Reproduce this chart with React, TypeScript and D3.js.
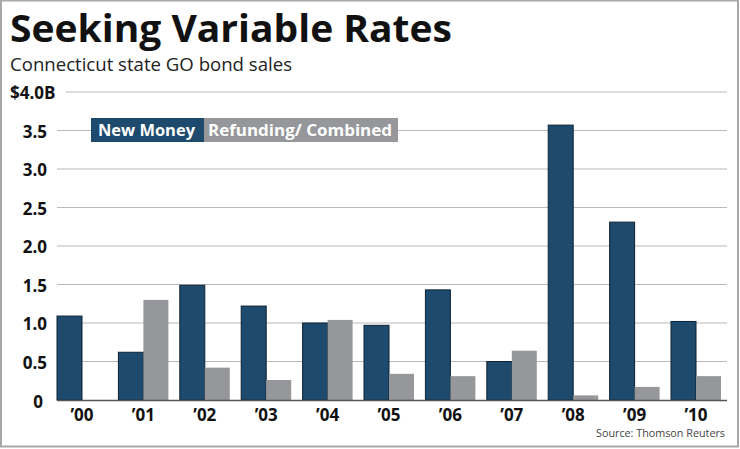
import React from 'react';
import * as d3 from 'd3';

const years = ['’00', '’01', '’02', '’03', '’04', '’05', '’06', '’07', '’08', '’09', '’10'];
const newMoney = [1.09, 0.62, 1.49, 1.22, 1.0, 0.97, 1.43, 0.5, 3.57, 2.31, 1.02];
const refunding = [0, 1.3, 0.42, 0.26, 1.04, 0.34, 0.31, 0.64, 0.06, 0.17, 0.31];
const yTicks = [0, 0.5, 1.0, 1.5, 2.0, 2.5, 3.0, 3.5, 4.0];
const seriesNames = ['New Money', 'Refunding/ Combined'];

const W = 740;
const H = 449;
const NAVY = '#1d4a6d';
const GRAY = '#96979a';
const FONT = "'Open Sans', 'Noto Sans', sans-serif";

const App: React.FC = () => {
  const x0 = d3.scaleBand<string>()
    .domain(years)
    .range([57, 721])
    .paddingInner(0.186)
    .paddingOuter(0);

  const x1 = d3.scaleBand<string>()
    .domain(['new', 'ref'])
    .range([0, x0.bandwidth()]);

  const y = d3.scaleLinear().domain([0, 4]).range([400, 92]);

  const fmt = (v: number) => (v === 0 ? '0' : v.toFixed(1));

  return (
    <svg
      width={W}
      height={H}
      style={{ position: 'absolute', left: 0, top: 0, background: '#fff' }}
      fontFamily={FONT}
    >
      <rect x={1} y={0.5} width={W - 3} height={H - 3} fill="#fff" stroke="#a7a7a7" strokeWidth={2} />

      <text x={10} y={42} fontSize={37} fontWeight={700} fill="#111" textLength={442} lengthAdjust="spacingAndGlyphs">
        Seeking Variable Rates
      </text>
      <text x={10} y={71} fontSize={17.5} fill="#222" textLength={282} lengthAdjust="spacingAndGlyphs">
        Connecticut state GO bond sales
      </text>

      {/* gridlines */}
      {yTicks.filter(t => t > 0).map(t => (
        <line
          key={t}
          x1={t === 4 ? 66 : 57}
          x2={727}
          y1={y(t)}
          y2={y(t)}
          stroke="#b9b9b9"
          strokeWidth={1.2}
        />
      ))}

      {/* y tick labels */}
      {yTicks.map(t => (
        t === 4 ? (
          <text key={t} x={10} y={y(t) + 7} fontSize={17} fontWeight={700} fill="#111">$4.0B</text>
        ) : (
          <text
            key={t}
            x={t === 0 ? 43 : 47}
            y={y(t) + (t === 0 ? 8 : 7)}
            textAnchor="end"
            fontSize={17}
            fontWeight={700}
            fill="#111"
          >
            {fmt(t)}
          </text>
        )
      ))}

      {/* legend */}
      <g transform="translate(91,118)">
        <rect width={113} height={24} fill={NAVY} />
        <rect x={113} width={194} height={24} fill={GRAY} />
        <text x={7} y={18} fontSize={16} fontWeight={700} fill="#fff" textLength={97} lengthAdjust="spacingAndGlyphs">
          {seriesNames[0]}
        </text>
        <text x={117} y={18} fontSize={16} fontWeight={700} fill="#fff" textLength={184} lengthAdjust="spacingAndGlyphs">
          {seriesNames[1]}
        </text>
      </g>

      {/* bars */}
      {years.map((yr, i) => (
        <g key={yr} transform={`translate(${x0(yr)},0)`}>
          <rect
            x={x1('new')}
            y={y(newMoney[i])}
            width={x1.bandwidth()}
            height={y(0) - y(newMoney[i])}
            fill={NAVY}
            stroke="#0c2233"
            strokeWidth={1}
          />
          {refunding[i] > 0 && (
            <rect
              x={x1('ref')}
              y={y(refunding[i])}
              width={x1.bandwidth()}
              height={y(0) - y(refunding[i])}
              fill={GRAY}
            />
          )}
        </g>
      ))}

      {/* baseline */}
      <line x1={57} x2={727} y1={400.5} y2={400.5} stroke="#555" strokeWidth={1.5} />

      {/* x labels */}
      {years.map(yr => (
        <text
          key={yr}
          x={(x0(yr) || 0) + x0.bandwidth() / 2}
          y={421}
          textAnchor="middle"
          fontSize={17}
          fontWeight={700}
          fill="#111"
        >
          {yr}
        </text>
      ))}

      <text x={725} y={437} textAnchor="end" fontSize={11} fill="#444" textLength={129} lengthAdjust="spacingAndGlyphs">
        Source: Thomson Reuters
      </text>
    </svg>
  );
};

export default App;
